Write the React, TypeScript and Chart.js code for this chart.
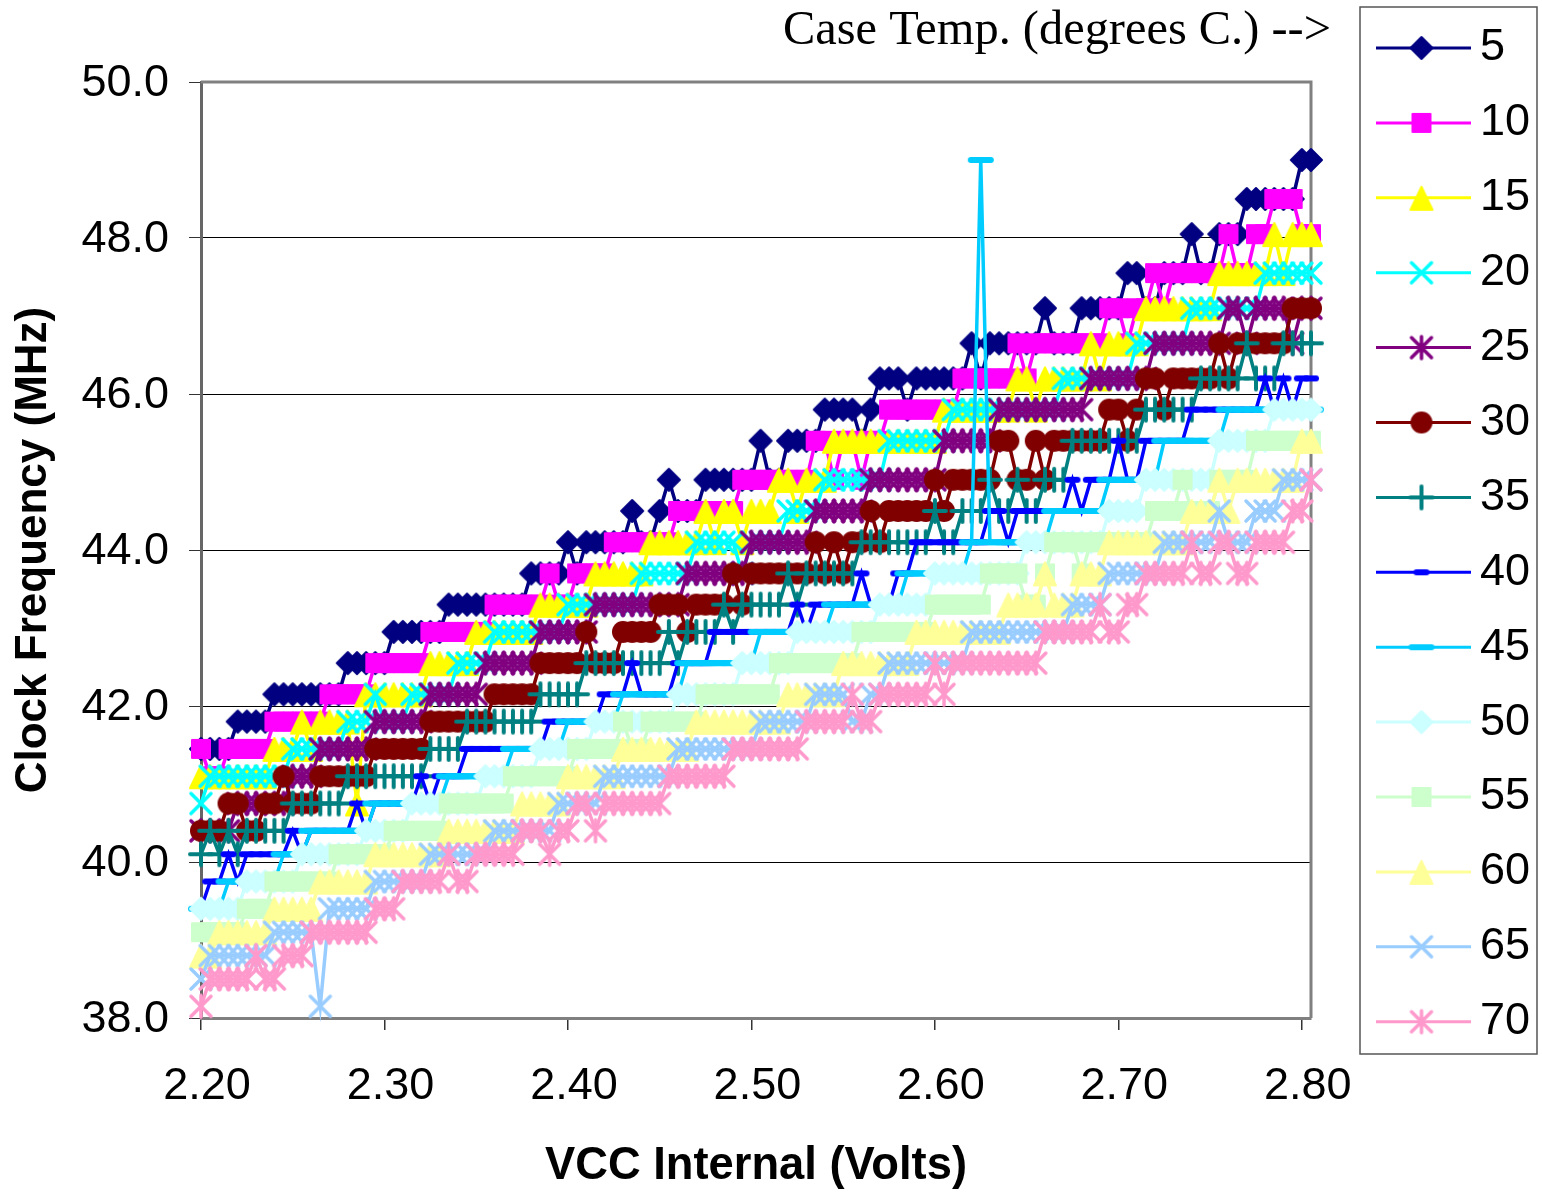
import React, { useEffect, useRef } from "react";
import { Chart, registerables } from "chart.js";

Chart.register(...registerables);

const voltages = Array.from({ length: 122 }, (_, i) => (2.2 + i * 0.005).toFixed(3));
const tickLabelEvery = 20;
const legendLabels = ["5", "10", "15", "20", "25", "30", "35", "40", "45", "50", "55", "60", "65", "70"];

const t5 = [
41.45,41.45,41.45,41.45,41.8,41.8,41.8,41.8,42.15,42.15,
42.15,42.15,42.15,42.15,42.15,42.15,42.55,42.55,42.55,42.55,
42.55,42.95,42.95,42.95,42.95,42.95,42.95,43.3,43.3,43.3,
43.3,43.3,43.3,43.3,43.3,43.3,43.7,43.7,43.7,43.7,
44.1,43.7,44.1,44.1,44.1,44.1,44.1,44.5,44.1,44.1,
44.5,44.9,44.5,44.5,44.5,44.9,44.9,44.9,44.9,44.9,
44.9,45.4,44.9,44.9,45.4,45.4,45.4,45.4,45.8,45.8,
45.8,45.8,45.4,45.8,46.2,46.2,46.2,45.8,46.2,46.2,
46.2,46.2,46.2,46.2,46.65,46.2,46.65,46.65,46.65,46.65,
46.65,46.65,47.1,46.65,46.65,46.65,47.1,47.1,47.1,47.1,
47.1,47.55,47.55,47.1,47.1,47.55,47.55,47.55,48.05,47.55,
47.55,48.05,48.05,48.05,48.5,48.5,48.5,48.5,48.5,48.5,
49,49];
const t10 = [
41.45,41.1,41.1,41.45,41.45,41.45,41.45,41.45,41.8,41.8,
41.8,41.8,41.8,41.8,42.15,42.15,42.15,42.15,42.15,42.55,
42.55,42.55,42.55,42.55,42.55,42.95,42.95,42.95,42.95,42.95,
42.95,42.95,43.3,43.3,43.3,43.3,43.3,43.3,43.7,43.3,
43.3,43.7,43.7,43.7,43.7,44.1,44.1,44.1,44.1,44.1,
44.1,44.1,44.5,44.5,44.5,44.5,44.5,44.5,44.5,44.9,
44.9,44.9,44.9,44.9,44.9,44.9,44.9,45.4,45.4,44.9,
45.4,45.4,44.9,45.4,45.4,45.8,45.8,45.8,45.8,45.8,
45.8,45.8,45.8,46.2,46.2,46.2,46.2,46.2,46.2,46.65,
46.2,46.65,46.65,46.65,46.65,46.65,46.65,46.65,46.65,47.1,
47.1,46.65,47.1,47.1,47.55,47.1,47.55,47.55,47.55,47.55,
47.55,47.55,48.05,47.55,47.55,48.05,48.05,48.5,48.5,48.5,
48.05,48.05];
const t15 = [
41.1,41.1,41.1,41.1,41.1,41.1,41.1,41.1,41.45,41.45,
41.45,41.8,41.45,41.8,41.8,41.8,41.8,40.75,42.15,42.15,
42.15,42.15,42.15,42.15,42.15,42.55,42.55,42.55,42.55,42.55,
42.95,42.95,42.95,42.95,42.95,42.95,42.95,43.3,43.3,43.3,
43.3,43.3,43.3,43.7,43.7,43.7,43.7,43.7,43.7,44.1,
44.1,44.1,44.1,44.1,44.1,44.5,44.1,44.5,44.5,44.1,
44.5,44.5,44.5,44.9,44.9,44.5,44.9,44.9,44.9,45.4,
45.4,45.4,45.4,45.4,45.4,45.4,45.4,45.4,45.4,45.4,
45.4,45.8,45.8,45.8,45.8,45.8,45.8,45.8,45.8,46.2,
46.2,45.8,46.2,46.2,46.2,46.2,46.2,46.65,46.2,46.65,
46.65,46.65,46.65,47.1,47.1,47.1,47.1,47.1,47.1,47.1,
47.1,47.55,47.55,47.55,47.55,47.55,47.55,48.05,47.55,48.05,
48.05,48.05];
const t20 = [
40.75,41.1,41.1,41.1,41.1,41.1,41.1,41.1,41.1,41.1,
41.45,41.45,41.45,41.45,41.45,41.45,41.8,41.8,41.8,42.15,
41.8,41.8,41.8,42.15,42.15,42.15,42.15,42.15,42.55,42.55,
42.55,42.55,42.95,42.95,42.95,42.95,42.95,42.95,42.95,42.95,
43.3,43.3,43.3,43.3,43.3,43.3,43.3,43.3,43.7,43.7,
43.7,43.7,43.7,43.7,44.1,44.1,44.1,44.1,44.1,43.7,
44.1,44.1,44.1,44.1,44.5,44.5,44.5,44.5,44.9,44.9,
44.9,44.9,44.9,44.9,44.9,45.4,45.4,45.4,45.4,45.4,
45.4,45.4,45.8,45.8,45.8,45.8,45.8,45.8,45.8,45.8,
45.8,45.8,45.8,45.8,46.2,46.2,46.2,46.2,46.2,46.2,
46.2,46.2,46.65,46.65,46.65,46.65,46.65,46.65,47.1,47.1,
47.1,47.1,47.1,47.1,47.1,47.1,47.55,47.55,47.55,47.55,
47.55,47.55];
const t25 = [
40.4,40.4,40.4,40.4,40.75,40.75,40.75,40.75,40.75,40.75,
41.1,41.1,41.1,41.45,41.45,41.45,41.45,41.45,41.45,41.8,
41.8,41.8,41.8,41.8,41.8,42.15,42.15,42.15,42.15,42.15,
42.15,42.55,42.55,42.55,42.55,42.55,42.55,42.95,42.95,42.95,
42.95,42.95,42.95,43.3,43.3,43.3,43.3,43.3,43.3,43.3,
43.3,43.3,43.3,43.7,43.7,43.7,43.7,43.7,43.7,43.7,
44.1,44.1,44.1,44.1,44.1,44.1,44.1,44.5,44.5,44.5,
44.5,44.5,44.5,44.9,44.9,44.9,44.9,44.9,44.9,44.9,
44.9,45.4,45.4,45.4,45.4,45.4,45.4,45.8,45.8,45.8,
45.8,45.8,45.8,45.8,45.8,45.8,45.8,46.2,46.2,46.2,
46.2,46.2,46.2,46.2,46.65,46.65,46.65,46.65,46.65,46.65,
46.65,46.65,47.1,47.1,46.65,47.1,47.1,47.1,47.1,46.65,
47.1,47.1];
const t30 = [
40.4,40.4,40.4,40.75,40.75,40.4,40.4,40.75,40.75,41.1,
40.75,40.75,40.75,41.1,41.1,41.1,41.1,41.1,41.1,41.45,
41.45,41.45,41.45,41.45,41.45,41.8,41.8,41.8,41.8,41.8,
41.8,41.8,42.15,42.15,42.15,42.15,42.15,42.55,42.55,42.55,
42.55,42.55,42.95,42.55,42.55,42.55,42.95,42.95,42.95,42.95,
43.3,43.3,43.3,42.95,43.3,43.3,43.3,43.3,43.7,43.3,
43.7,43.7,43.7,43.7,43.7,43.7,43.7,44.1,43.7,44.1,
43.7,44.1,44.1,44.5,44.1,44.5,44.5,44.5,44.5,44.5,
44.9,44.5,44.9,44.9,44.9,44.9,44.9,45.4,45.4,44.9,
44.9,45.4,44.9,45.4,45.4,45.4,45.4,45.4,45.4,45.8,
45.8,45.4,45.8,46.2,46.2,45.8,46.2,46.2,46.2,46.2,
46.2,46.65,46.2,46.65,46.65,46.65,46.65,46.65,46.65,47.1,
47.1,47.1];
const t35 = [
40.1,40.4,40.1,40.4,40.1,40.4,40.4,40.4,40.4,40.4,
40.75,40.75,40.75,40.75,40.75,40.75,41.1,41.1,41.1,41.1,
41.1,41.1,41.1,41.1,41.1,41.45,41.45,41.45,41.45,41.8,
41.8,41.8,41.8,41.8,41.8,41.8,41.8,42.15,42.15,42.15,
42.15,42.15,42.55,42.55,42.55,42.55,42.55,42.55,42.55,42.55,
42.55,42.95,42.55,42.95,42.95,42.95,42.95,43.3,42.95,43.3,
43.3,43.3,43.3,43.3,43.7,43.3,43.7,43.7,43.7,43.7,
43.7,43.7,44.1,44.1,44.1,44.1,44.1,44.1,44.1,44.1,
44.5,44.1,44.1,44.5,44.5,44.5,44.9,44.5,44.5,44.9,
44.5,44.5,44.9,44.9,44.9,45.4,45.4,45.4,45.4,45.4,
45.4,45.4,45.4,45.8,45.8,45.8,45.8,45.8,45.8,46.2,
46.2,46.2,46.2,46.2,46.65,46.2,46.2,46.2,46.65,46.65,
46.65,46.65];
const t40 = [
39.4,39.75,39.75,40.1,39.75,40.1,40.1,40.1,40.1,40.1,
40.4,40.1,40.4,40.4,40.4,40.4,40.4,40.75,40.4,40.75,
40.75,40.75,40.75,40.75,41.1,40.75,41.1,41.1,41.1,41.45,
41.45,41.45,41.45,41.45,41.45,41.45,41.45,41.45,41.8,41.8,
41.8,41.8,41.8,41.8,42.15,42.15,42.15,42.55,42.15,42.15,
42.15,42.15,42.55,42.55,42.55,42.55,42.95,42.95,42.95,42.95,
42.95,42.95,42.95,42.95,42.95,43.3,42.95,43.3,43.3,43.3,
43.3,43.3,43.7,43.3,43.3,43.3,43.7,43.7,44.1,44.1,
44.1,44.1,44.1,44.1,44.1,44.1,44.5,44.5,44.1,44.5,
44.5,44.5,44.5,44.5,44.5,44.9,44.5,44.9,44.9,44.9,
45.4,44.9,44.9,45.4,45.4,45.4,45.4,45.4,45.8,45.8,
45.8,45.8,45.8,45.8,45.8,45.8,46.2,45.8,46.2,45.8,
46.2,46.2];
const t45 = [
39.4,39.4,39.4,39.75,39.75,39.75,39.75,39.75,39.75,40.1,
40.1,40.1,40.4,40.4,40.4,40.4,40.4,40.4,40.4,40.75,
40.75,40.75,40.75,40.75,40.75,40.75,40.75,41.1,41.1,41.1,
41.1,41.1,41.1,41.1,41.45,41.45,41.45,41.45,41.45,41.45,
41.8,41.8,41.8,41.8,41.8,41.8,42.15,42.15,42.15,42.15,
42.15,42.15,42.15,42.55,42.55,42.55,42.55,42.55,42.55,42.55,
42.55,42.95,42.95,42.95,42.95,42.95,42.95,42.95,42.95,43.3,
43.3,43.3,43.3,43.3,43.3,43.3,43.3,43.7,43.7,43.7,
43.7,43.7,43.7,43.7,44.1,49,44.1,44.1,44.1,44.1,
44.1,44.1,44.1,44.5,44.5,44.5,44.5,44.5,44.5,44.9,
44.9,44.9,44.9,44.9,44.9,45.4,45.4,45.4,45.4,45.4,
45.4,45.4,45.8,45.8,45.8,45.8,45.8,45.8,45.8,45.8,
45.8,45.8];
const t50 = [
39.4,39.4,39.4,39.4,39.4,39.75,39.75,39.75,39.75,39.75,
39.75,40.1,40.1,40.1,40.1,40.1,40.1,40.1,40.4,40.4,
40.4,40.4,40.4,40.75,40.75,40.75,40.75,40.75,40.75,40.75,
40.75,41.1,41.1,41.1,41.1,41.1,41.1,41.45,41.45,41.45,
41.45,41.45,41.45,41.8,41.8,41.8,41.8,41.8,41.8,41.8,
41.8,41.8,42.15,42.15,42.15,42.15,42.15,42.15,42.15,42.55,
42.55,42.55,42.55,42.55,42.55,42.95,42.95,42.95,42.95,42.95,
42.95,42.95,42.95,42.95,43.3,43.3,43.3,43.3,43.3,43.3,
43.7,43.7,43.7,43.7,43.7,43.7,43.7,43.7,43.7,43.7,
44.1,44.1,44.1,44.1,44.1,44.1,44.1,44.1,44.1,44.5,
44.5,44.5,44.5,44.9,44.9,44.9,44.9,44.9,44.9,44.9,
44.9,45.4,45.4,45.4,45.4,45.4,45.4,45.8,45.8,45.8,
45.8,45.8];
const t55 = [
39.1,39.1,39.1,39.1,39.1,39.4,39.4,39.4,39.75,39.75,
39.75,39.75,39.75,39.75,39.75,40.1,40.1,40.1,40.1,40.1,
40.1,40.4,40.4,40.4,40.4,40.4,40.4,40.75,40.75,40.75,
40.75,40.75,40.75,40.75,41.1,41.1,41.1,41.1,41.1,41.1,
41.1,41.45,41.45,41.45,41.45,41.45,41.8,41.45,41.45,41.8,
41.8,41.8,41.8,41.8,41.8,42.15,42.15,42.15,42.15,42.15,
42.15,42.15,42.15,42.55,42.55,42.55,42.55,42.55,42.55,42.55,
42.55,42.55,42.95,42.95,42.95,42.95,42.95,42.95,42.95,42.95,
43.3,43.3,43.3,43.3,43.3,43.3,43.7,43.7,43.7,43.7,
43.3,43.3,43.7,44.1,44.1,44.1,43.7,44.1,44.1,44.1,
44.1,44.1,44.1,44.1,44.5,44.5,44.5,44.9,44.5,44.5,
44.5,44.9,44.9,44.9,44.9,45.4,45.4,45.4,45.4,45.4,
45.4,45.4];
const t60 = [
38.8,38.8,39.1,39.1,39.1,39.1,39.1,39.1,39.4,39.4,
39.4,39.4,39.4,39.75,39.75,39.75,39.75,39.75,39.75,40.1,
40.1,40.1,40.1,40.1,40.1,40.1,40.1,40.4,40.4,40.4,
40.4,40.4,40.4,40.4,40.4,40.75,40.75,40.75,40.75,40.75,
41.1,41.1,41.1,41.1,41.1,41.1,41.45,41.45,41.45,41.45,
41.45,41.45,41.45,41.45,41.8,41.8,41.8,41.8,41.8,41.8,
41.8,41.8,41.8,41.8,42.15,42.15,42.15,42.15,42.15,42.15,
42.55,42.55,42.55,42.55,42.55,42.55,42.55,42.55,42.95,42.95,
42.95,42.95,42.95,42.95,42.95,42.95,42.95,42.95,43.3,43.3,
43.3,43.3,43.7,43.3,43.3,43.3,43.7,43.7,43.7,44.1,
44.1,44.1,44.1,44.1,44.1,44.1,44.1,44.1,44.5,44.5,
44.5,44.9,44.5,44.9,44.9,44.9,44.9,44.9,44.9,44.9,
45.4,45.4];
const t65 = [
38.5,38.8,38.8,38.8,38.8,38.8,38.8,38.8,39.1,39.1,
39.1,39.1,39.1,38.15,39.4,39.4,39.4,39.4,39.4,39.75,
39.75,39.75,39.75,39.75,39.75,40.1,40.1,40.1,40.1,40.1,
40.1,40.1,40.4,40.4,40.4,40.4,40.4,40.4,40.4,40.75,
40.75,40.75,40.75,40.75,41.1,41.1,41.1,41.1,41.1,41.1,
41.1,41.1,41.45,41.45,41.45,41.45,41.45,41.45,41.45,41.45,
41.45,41.8,41.8,41.8,41.8,41.8,41.8,42.15,42.15,42.15,
42.15,41.8,41.8,42.15,42.15,42.55,42.55,42.55,42.55,42.55,
42.55,42.55,42.55,42.55,42.95,42.95,42.95,42.95,42.95,42.95,
42.95,42.95,42.95,42.95,42.95,43.3,43.3,43.3,43.3,43.7,
43.7,43.7,43.7,43.7,43.7,44.1,44.1,44.1,44.1,44.1,
44.1,44.5,44.1,44.1,44.1,44.5,44.5,44.5,44.9,44.9,
44.9,44.9];
const t70 = [
38.15,38.5,38.5,38.5,38.5,38.5,38.8,38.5,38.5,38.8,
38.8,38.8,39.1,39.1,39.1,39.1,39.1,39.1,39.1,39.4,
39.4,39.4,39.75,39.75,39.75,39.75,39.75,40.1,39.75,39.75,
40.1,40.1,40.1,40.1,40.1,40.4,40.4,40.4,40.1,40.4,
40.4,40.75,40.75,40.4,40.75,40.75,40.75,40.75,40.75,40.75,
40.75,41.1,41.1,41.1,41.1,41.1,41.1,41.1,41.45,41.45,
41.45,41.45,41.45,41.45,41.45,41.45,41.8,41.8,41.8,41.8,
41.8,42.15,41.8,41.8,42.15,42.15,42.15,42.15,42.15,42.15,
42.55,42.15,42.55,42.55,42.55,42.55,42.55,42.55,42.55,42.55,
42.55,42.55,42.95,42.95,42.95,42.95,42.95,42.95,43.3,42.95,
42.95,43.3,43.3,43.7,43.7,43.7,43.7,43.7,44.1,43.7,
43.7,44.1,44.1,43.7,43.7,44.1,44.1,44.1,44.1,44.5,
44.5,44.9];

const seriesValues = [t5, t10, t15, t20, t25, t30, t35, t40, t45, t50, t55, t60, t65, t70];
const colors = ["#000080", "#FF00FF", "#FFFF00", "#00FFFF", "#800080", "#800000", "#008080", "#0000FF", "#00CCFF", "#CCFFFF", "#CCFFCC", "#FFFF99", "#99CCFF", "#FF99CC"];
const shapes = ["diamond", "square", "triangle", "x", "star", "circle", "plus", "dashS", "dashL", "diamond", "square", "triangle", "x", "star"];

function makeMarker(shape: string, color: string) {
  const c = document.createElement("canvas");
  c.width = 32;
  c.height = 32;
  const g = c.getContext("2d")!;
  g.translate(16, 16);
  g.fillStyle = color;
  g.strokeStyle = color;
  g.lineCap = "round";
  g.lineJoin = "round";
  const poly = (pts: number[][]) => {
    g.beginPath();
    pts.forEach((p, i) => (i ? g.lineTo(p[0], p[1]) : g.moveTo(p[0], p[1])));
    g.closePath();
    g.lineWidth = 2;
    g.fill();
    g.stroke();
  };
  const lines = (pts: number[][], w: number) => {
    g.lineWidth = w;
    g.beginPath();
    pts.forEach((p) => {
      g.moveTo(p[0], p[1]);
      g.lineTo(p[2], p[3]);
    });
    g.stroke();
  };
  if (shape === "diamond") poly([[0, -11], [11, 0], [0, 11], [-11, 0]]);
  if (shape === "square") poly([[-9, -9], [9, -9], [9, 9], [-9, 9]]);
  if (shape === "triangle") poly([[0, -11], [11, 12], [-11, 12]]);
  if (shape === "circle") {
    g.beginPath();
    g.arc(0, 0, 11, 0, Math.PI * 2);
    g.fill();
  }
  if (shape === "x") lines([[-10, -10, 10, 10], [-10, 10, 10, -10]], 3.5);
  if (shape === "star") lines([[-10, -10, 10, 10], [-10, 10, 10, -10], [0, -11, 0, 11]], 3.5);
  if (shape === "plus") lines([[-11, 0, 11, 0], [0, -11, 0, 11]], 4);
  if (shape === "dashS") lines([[-5, 0, 5, 0]], 6);
  if (shape === "dashL") lines([[-10, 0, 10, 0]], 6);
  return c;
}

export default function App() {
  const ref = useRef<HTMLCanvasElement | null>(null);
  useEffect(() => {
    const markers = shapes.map((s, i) => makeMarker(s, colors[i]));
    const framePlugin = {
      id: "frame",
      beforeDatasetsDraw(chart: any) {
        const { ctx, chartArea: a } = chart;
        ctx.save();
        ctx.strokeStyle = "#808080";
        ctx.lineWidth = 3;
        ctx.beginPath();
        ctx.moveTo(a.left, a.top);
        ctx.lineTo(a.right, a.top);
        ctx.lineTo(a.right, a.bottom);
        ctx.stroke();
        ctx.restore();
      },
      afterDraw(chart: any) {
        const { ctx } = chart;
        ctx.save();
        ctx.fillStyle = "#000";
        ctx.textBaseline = "middle";
        ctx.font = "48.4px 'Liberation Serif'";
        ctx.textAlign = "left";
        ctx.fillText("Case Temp. (degrees C.) -->", 783, 31);
        ctx.strokeStyle = "#555";
        ctx.lineWidth = 1.5;
        ctx.strokeRect(1360, 7, 177, 1047);
        ctx.font = "45px 'Liberation Sans'";
        legendLabels.forEach((label, i) => {
          const y = 48 + i * 74.9;
          ctx.strokeStyle = colors[i];
          ctx.lineWidth = 3;
          ctx.beginPath();
          ctx.moveTo(1376, y);
          ctx.lineTo(1471, y);
          ctx.stroke();
          ctx.drawImage(markers[i], 1421.5 - 16, y - 16);
          ctx.fillStyle = "#000";
          ctx.fillText(label, 1480, y);
        });
        ctx.restore();
      },
    };
    const chart = new Chart(ref.current!, {
      type: "line",
      data: {
        labels: voltages,
        datasets: seriesValues.map((values, i) => ({
          label: legendLabels[i],
          data: values,
          borderColor: colors[i],
          backgroundColor: colors[i],
          borderWidth: 3.5,
          tension: 0,
          fill: false,
          clip: false,
          order: seriesValues.length - i,
          pointStyle: markers[i],
          pointRadius: 14,
        })),
      },
      plugins: [framePlugin],
      options: {
        animation: false,
        responsive: false,
        devicePixelRatio: 1,
        layout: { padding: { left: 0, top: 82, right: 231, bottom: 0 } },
        plugins: { legend: { display: false }, title: { display: false }, tooltip: { enabled: false } },
        scales: {
          x: {
            type: "category",
            offset: false,
            afterBuildTicks: (s: any) => {
              s.ticks = s.ticks.filter((_: any, i: number) => i % tickLabelEvery === 0);
            },
            afterFit: (s: any) => {
              s.height = 176;
            },
            border: { color: "#808080", width: 3 },
            grid: { drawOnChartArea: false, color: "#808080", lineWidth: 1.5, tickLength: 12, tickColor: "#333" },
            ticks: {
              autoSkip: false,
              maxRotation: 0,
              minRotation: 0,
              padding: 30,
              labelOffset: 6,
              color: "#000",
              font: { family: "'Liberation Sans'", size: 45 },
              callback(this: any, value: any) {
                return Number(this.getLabelForValue(value)).toFixed(2);
              },
            },
            title: {
              display: true,
              text: "VCC Internal (Volts)",
              color: "#000",
              font: { family: "'Liberation Sans'", size: 45.3, weight: "bold" },
              padding: { top: 0, bottom: 0 },
            },
          },
          y: {
            min: 38,
            max: 50,
            afterFit: (s: any) => {
              s.width = 201;
            },
            border: { color: "#666", width: 3 },
            grid: { color: "#000", lineWidth: 1, tickLength: 12, tickColor: "#333", z: -1 },
            ticks: {
              stepSize: 2,
              padding: 20,
              labelOffset: 2,
              color: "#000",
              font: { family: "'Liberation Sans'", size: 45 },
              callback: (v: any) => Number(v).toFixed(1),
            },
            title: {
              display: true,
              text: "Clock Frequency (MHz)",
              color: "#000",
              font: { family: "'Liberation Sans'", size: 44, weight: "bold" },
              padding: { top: 7, bottom: 0 },
            },
          },
        },
      },
    } as any);
    return () => chart.destroy();
  }, []);
  return <canvas ref={ref} width={1542} height={1194} style={{ position: "absolute", left: 0, top: 0, display: "block" }} />;
}
